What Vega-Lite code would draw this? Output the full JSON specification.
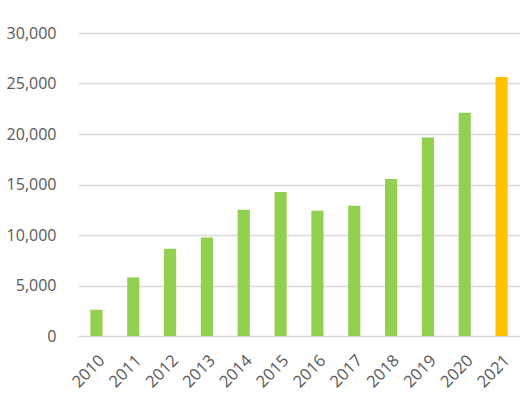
{
  "$schema": "https://vega.github.io/schema/vega-lite/v6.json",
  "width": 442,
  "height": 303,
  "autosize": {"type": "none"},
  "padding": {"left": 78, "top": 33, "right": 7, "bottom": 58},
  "background": "white",
  "data": {
    "values": [
      {"year": "2010", "value": 2600, "type": "past"},
      {"year": "2011", "value": 5800, "type": "past"},
      {"year": "2012", "value": 8650, "type": "past"},
      {"year": "2013", "value": 9750, "type": "past"},
      {"year": "2014", "value": 12500, "type": "past"},
      {"year": "2015", "value": 14250, "type": "past"},
      {"year": "2016", "value": 12400, "type": "past"},
      {"year": "2017", "value": 12900, "type": "past"},
      {"year": "2018", "value": 15550, "type": "past"},
      {"year": "2019", "value": 19650, "type": "past"},
      {"year": "2020", "value": 22100, "type": "past"},
      {"year": "2021", "value": 25650, "type": "current"}
    ]
  },
  "config": {
    "view": {"stroke": null},
    "font": "Open Sans"
  },
  "mark": {"type": "bar"},
  "encoding": {
    "x": {
      "field": "year",
      "type": "ordinal",
      "scale": {"paddingInner": 0.67, "paddingOuter": 0.335},
      "axis": {
        "title": null,
        "labelAngle": -45,
        "labelFontSize": 16.5,
        "labelColor": "#595959",
        "domain": false,
        "ticks": false,
        "labelPadding": 16
      }
    },
    "y": {
      "field": "value",
      "type": "quantitative",
      "scale": {"domain": [0, 30000], "nice": false},
      "axis": {
        "title": null,
        "values": [0, 5000, 10000, 15000, 20000, 25000, 30000],
        "format": ",d",
        "labelFontSize": 16,
        "labelColor": "#595959",
        "domain": false,
        "ticks": false,
        "labelPadding": 22,
        "gridColor": "#D9D9D9",
        "gridWidth": 1.3,
        "gridOpacity": 1
      }
    },
    "color": {
      "field": "type",
      "type": "nominal",
      "scale": {"domain": ["past", "current"], "range": ["#92D050", "#FFC000"]},
      "legend": null
    }
  }
}
